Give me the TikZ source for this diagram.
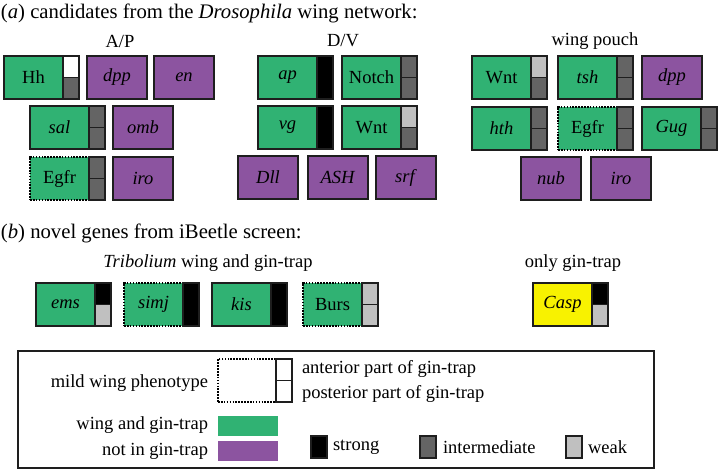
\documentclass[tikz,border=0pt]{standalone}
\usepackage{fontspec}
\setmainfont{Liberation Serif}
\usetikzlibrary{positioning}

\definecolor{wgreen}{RGB}{48,178,115}
\definecolor{npurple}{RGB}{140,84,160}
\definecolor{cyellow}{RGB}{248,242,0}
\definecolor{igray}{RGB}{100,100,100}
\definecolor{wgray}{RGB}{192,192,192}
\definecolor{boxline}{RGB}{30,30,30}

\begin{document}
\begin{tikzpicture}
  [x=1pt,y=-1pt,
   every node/.style={font=\fontsize{18.5}{22}\selectfont, inner sep=0pt, outer sep=0pt},
   title/.style={anchor=west, font=\fontsize{20.7}{24}\selectfont},
   gbox/.style={draw=boxline, line width=1.6pt, minimum width=59pt, minimum height=43pt, anchor=north west},
   wingtrap/.style={gbox, fill=wgreen},
   mildbox/.style={gbox, fill=wgreen, draw=black, dash pattern=on 1.6pt off 1.3pt},
   notrap/.style={gbox, fill=npurple, minimum width=60pt},
   onlytrap/.style={gbox, fill=cyellow},
   cell/.style={draw=boxline, line width=1.6pt, minimum width=16pt, minimum height=21.5pt, anchor=north west},
   strongcell/.style={cell, fill=black},
   intercell/.style={cell, fill=igray},
   weakcell/.style={cell, fill=wgray},
   emptycell/.style={cell, fill=white},
   strongbar/.style={cell, fill=black, minimum height=43pt},
   keybox/.style={draw=boxline, line width=1.4pt, minimum width=16pt, minimum height=22pt, anchor=north west}]
  \useasboundingbox (0,0) rectangle (718,470);

  % (a) Drosophila candidates
  \node[title] (ttla) at (1,13) {(\emph{a}) candidates from the \emph{Drosophila} wing network:};
  \node (ap-lbl) at (120,41) {A/P};
  \node (dv-lbl) at (343,41) {D/V};
  \node (wp-lbl) at (595,41) {wing pouch};

  \node[wingtrap] (hh)   at (4,56)    {Hh};
  \node[wingtrap] (sal)  at (30,106)  {\emph{sal}};
  \node[mildbox]  (egfr) at (30,157)  {Egfr};
  \node[wingtrap] (ap)   at (258,56)  {\emph{ap}};
  \node[wingtrap] (notch) at (342,56) {Notch};
  \node[wingtrap] (vg)   at (258,106) {\emph{vg}};
  \node[wingtrap] (wnt)  at (342,106) {Wnt};
  \node[wingtrap] (wpwnt) at (472,56) {Wnt};
  \node[wingtrap] (tsh)  at (558,56)  {\emph{tsh}};
  \node[wingtrap] (hth)  at (472,107) {\emph{hth}};
  \node[mildbox]  (wpegfr) at (558,107) {Egfr};
  \node[wingtrap] (gug)  at (642,107) {\emph{Gug}};

  \foreach \n/\x/\y/\t in {dpp/87/56/dpp, en/154/56/en, omb/113/106/omb, iro/113/157/iro,
      dll/238/156/Dll, ash/308/156/ASH, srf/376/156/srf,
      wpdpp/642/56/dpp, nub/521/157/nub, wpiro/591/157/iro}
    \node[notrap] (\n) at (\x,\y) {\emph{\t}};

  % (b) iBeetle genes
  \node[title] (ttlb) at (1,233) {(\emph{b}) novel genes from iBeetle screen:};
  \node (tc-lbl) at (208,263) {\emph{Tribolium} wing and gin-trap};
  \node (gt-lbl) at (573,263) {only gin-trap};

  \node[wingtrap] (ems)  at (36,283)  {\emph{ems}};
  \node[mildbox]  (simj) at (124,283) {\emph{simj}};
  \node[wingtrap] (kis)  at (212,283) {\emph{kis}};
  \node[mildbox]  (burs) at (303,283) {Burs};
  \node[onlytrap] (casp) at (533,283) {\emph{Casp}};

  % gin-trap cells
  \foreach \b/\a/\p in {hh/emptycell/intercell, sal/intercell/intercell, egfr/intercell/intercell,
      notch/intercell/intercell, wnt/weakcell/intercell, wpwnt/weakcell/intercell,
      tsh/intercell/intercell, hth/intercell/intercell, wpegfr/intercell/intercell,
      gug/intercell/intercell, ems/strongcell/weakcell, burs/weakcell/weakcell,
      casp/strongcell/weakcell} {
    \node[\a] (\b-a) at (\b.north east) {};
    \node[\p] (\b-p) at (\b-a.south west) {};
  }
  \foreach \b in {ap,vg,simj,kis}
    \node[strongbar] (\b-s) at (\b.north east) {};

  % legend
  \draw[boxline, line width=1.5pt] (18,351) rectangle (654,468);
  \node[anchor=east] (mildtxt) at (208,383) {mild wing phenotype};
  \node[gbox, draw=black, dash pattern=on 1.6pt off 1.3pt, minimum width=58pt] (mildkey) at (218,359) {};
  \node[emptycell] (key-a) at (mildkey.north east) {};
  \node[emptycell] (key-p) at (key-a.south west) {};
  \node[anchor=west] (anttxt) at (302,369) {anterior part of gin-trap};
  \node[anchor=west] (posttxt) at (302,394) {posterior part of gin-trap};

  \node[anchor=east] (wtxt) at (208,425) {wing and gin-trap};
  \node[fill=wgreen, minimum width=60pt, minimum height=20pt, anchor=north west] (wkey) at (218,416) {};
  \node[anchor=east] (ntxt) at (208,451) {not in gin-trap};
  \node[fill=npurple, minimum width=60pt, minimum height=20pt, anchor=north west] (nkey) at (218,441) {};

  \node[keybox, fill=black] (skey) at (311,436) {};
  \node[right=6pt of skey] (stxt) {strong};
  \node[keybox, fill=igray] (ikey) at (420,436) {};
  \node[right=7pt of ikey] (itxt) {intermediate};
  \node[keybox, fill=wgray] (wkkey) at (566,436) {};
  \node[right=6pt of wkkey] (wktxt) {weak};

\end{tikzpicture}
\end{document}
